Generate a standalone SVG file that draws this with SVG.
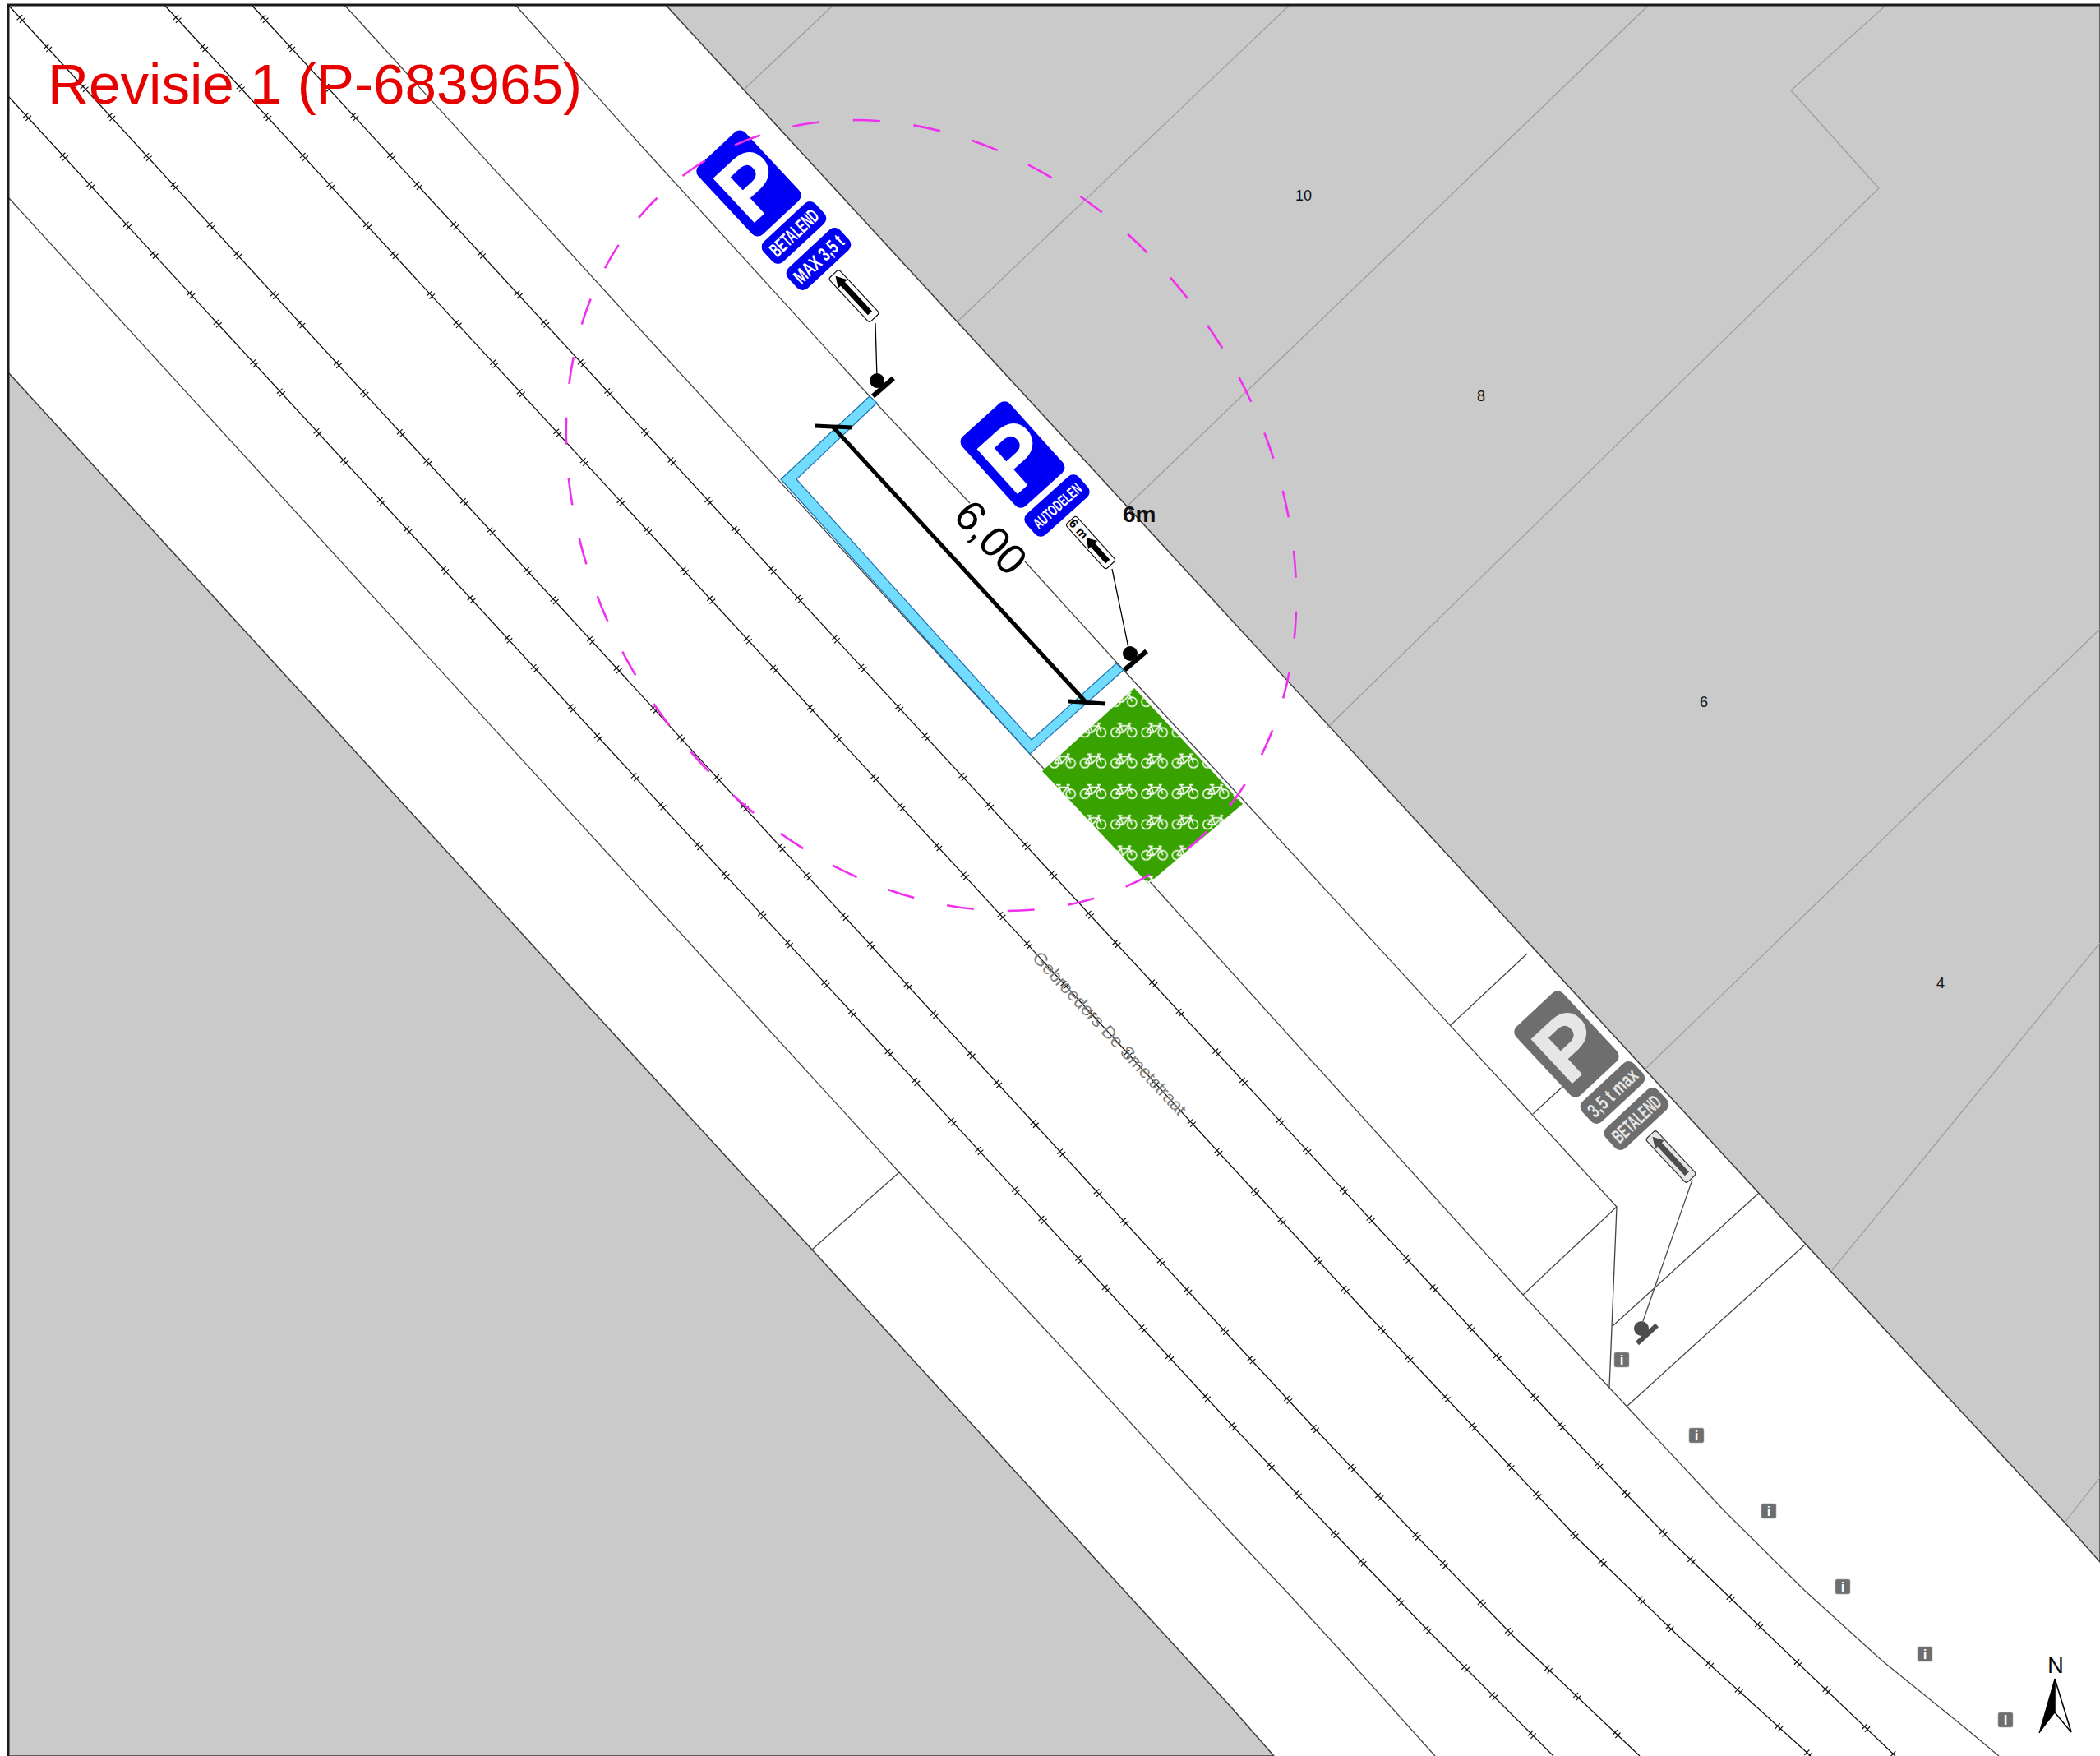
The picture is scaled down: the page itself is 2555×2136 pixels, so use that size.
<svg xmlns="http://www.w3.org/2000/svg" xmlns:xlink="http://www.w3.org/1999/xlink" width="2555" height="2136" viewBox="0 0 2555 2136">
<style>
text{font-family:"Liberation Sans",Arial,sans-serif}
.gray{fill:#cacaca;stroke:#3c3c3c;stroke-width:1.5}
.road{fill:none;stroke:#444;stroke-width:1.3}
.tr{fill:none;stroke:#111;stroke-width:1.3}
.tk{fill:none;stroke:#111;stroke-width:9;stroke-dasharray:1.2 3.6 1.2 42 1.2 3.6 1.2 60}
.lot{fill:none;stroke:#9c9c9c;stroke-width:1.2}
.pb{fill:#0000f5}.pg{fill:#6e6e6e}
.tb{fill:#fff}.tg{fill:#e6e6e6}
.lbl{font-weight:bold;font-size:24px}
.P{font-weight:bold;font-size:105px}
.num{font-size:18px;text-anchor:middle;fill:#111}
.inf{fill:#6e6e6e;stroke:#aaa;stroke-width:.6}
.inft{fill:#fff;font-size:17px;font-weight:bold;text-anchor:middle}
</style>
<defs>
<pattern id="bikes" patternUnits="userSpaceOnUse" width="37.33" height="37.33" patternTransform="translate(1350.8 873.5)">
<g transform="translate(6.5 17.5)" fill="none" stroke="#fff" stroke-width="1.6">
<circle cx="0" cy="0" r="5.6"/><circle cx="20" cy="0" r="5.6"/>
<path d="M0 0H9L16.5-8H6L0 0M9 0L5-11M2.500-11H8M20 0L16-11H19"/>
</g>
</pattern>
<g id="ar3"><rect x="-8.500" y="-36.500" width="17" height="73" rx="3.500" fill="#fff" stroke="#111" stroke-width="1.2"/><path d="M0-33L7.500-20H3.500V28.500H-3.500V-20H-7.500Z" fill="#000"/></g>
</defs>
<rect width="2555" height="2136" fill="#fff"/>
<g id="ground">
<path class="gray" d="M810 6L2100 1408L2228 1547L2512 1852L2555 1900V6Z"/>
<path class="gray" d="M10 453L900 1425L988 1520L1107 1650L1500 2079L1550 2136H10Z"/>
<path class="lot" d="M1014 6L905 109M1569 6L1165 391M2006 6L1800 204L1370 617M2295 6L2179 110L2286 229L2009 500L1615 885M2555 765L2002 1300M2555 1147L2348 1400L2229 1545M2555 1797L2512 1852"/>
</g>
<g id="connectors">
<path class="road" d="M10 240L1094 1426L1302 1650L1500 1867L1567 1938L1641 2019L1746 2136"/>
<path class="road" d="M988 1520L1094 1426"/>
<path class="tr" d="M10 117L1500 1735L1628 1870L1742 1988L1890 2136"/><path class="tk" stroke-dashoffset="17" d="M10 117L1500 1735L1628 1870L1742 1988L1890 2136"/>
<path class="tr" d="M10 6L1500 1630L1598 1736L1724 1869L1841 1990L1995 2136"/><path class="tk" stroke-dashoffset="94" d="M10 6L1500 1630L1598 1736L1724 1869L1841 1990L1995 2136"/>
<path class="tr" d="M200 6L1665 1600L1793 1736L1919 1871L2043 1991L2203 2136"/><path class="tk" stroke-dashoffset="94" d="M200 6L1665 1600L1793 1736L1919 1871L2043 1991L2203 2136"/>
<path class="tr" d="M306 6L1775 1600L1901 1736L2032 1873L2153 1990L2306 2136"/><path class="tk" stroke-dashoffset="94" d="M306 6L1775 1600L1901 1736L2032 1873L2153 1990L2306 2136"/>
<path class="road" d="M419 6L780 402L1253 917L1395 1068L1853 1575L1958 1688L2099 1839L2196 1935L2291 2021L2390 2101L2432 2136"/>
<path class="road" d="M627 6L780 177L1058 482L1180 612M1247 683L1367 815L1540 1003L1967 1468L1853 1575M1967 1468L1958 1688M1962 1613L2139 1452M1979 1711L2196 1514M1765 1247L1858 1160M1865 1355L1925 1300"/>
</g>
<g id="bike-area">
<path id="bg" d="M1380 837L1268 938L1397 1075L1512 978Z" fill="#38a300"/>
<path d="M1380 837L1268 938L1397 1075L1512 978Z" fill="url(#bikes)"/>
</g>
<g id="parking-bay">
<path d="M1058 482L950 583L1253 917L1367 815L1358 807L1255 900L969 583L1067 490Z" fill="#72dcff" stroke="#1b6fae" stroke-width="1.2"/>
</g>
<g id="dimension">
<path d="M1014 520L1322 855M992 518L1037 520M1300 853L1345 856" fill="none" stroke="#000" stroke-width="5"/>
<text transform="translate(1158 629) rotate(47)" font-size="52" fill="#000">6,00</text>
</g>
<text id="label-6m" x="1366" y="635" font-size="28" font-weight="bold" fill="#111">6m</text>
<g id="sign-betalend-blue">
<g transform="translate(911 223) rotate(-43)"><rect class="pb" x="-39" y="-57" width="78" height="114" rx="9"/><text class="P tb" stroke="#fff" stroke-width="1.500" x="-34" y="39">P</text></g>
<g transform="translate(966 283) rotate(-43)"><rect class="pb" x="-43" y="-17" width="86" height="34" rx="9"/><text class="lbl tb" x="-36" y="8.500" textLength="72" lengthAdjust="spacingAndGlyphs">BETALEND</text></g>
<g transform="translate(996 315) rotate(-43)"><rect class="pb" x="-43" y="-17" width="86" height="34" rx="9"/><text class="lbl tb" x="-37" y="8.500" textLength="74" lengthAdjust="spacingAndGlyphs">MAX 3,5 t</text></g>
<use xlink:href="#ar3" href="#ar3" transform="translate(1039 360) rotate(-43)"/>
<path d="M1065 393L1067 460" fill="none" stroke="#000" stroke-width="1.300"/>
<path d="M1062 482L1087 460" stroke="#000" stroke-width="6"/><circle cx="1067" cy="463" r="9"/>
</g>
<g id="sign-autodelen">
<g transform="translate(1232 553) rotate(-42)"><rect class="pb" x="-39" y="-57" width="78" height="114" rx="9"/><text class="P tb" stroke="#fff" stroke-width="1.500" x="-34" y="39">P</text></g>
<g transform="translate(1286 615) rotate(-42)"><rect class="pb" x="-43" y="-17" width="86" height="34" rx="9"/><text class="tb" font-weight="bold" font-size="19" x="-36" y="7" textLength="72" lengthAdjust="spacingAndGlyphs">AUTODELEN</text></g>
<g transform="translate(1327 660) rotate(-42)"><rect x="-8.500" y="-36.500" width="17" height="73" rx="3.500" fill="#fff" stroke="#111" stroke-width="1.200"/><path d="M0-8L7.500 4H3.500V31H-3.500V4H-7.500Z" fill="#000"/><text transform="rotate(90)" x="-35" y="5" font-size="15" font-weight="bold" fill="#000">6 m</text></g>
<path d="M1353 692L1373 788" fill="none" stroke="#000" stroke-width="1.300"/>
<path d="M1368 815L1395 792" stroke="#000" stroke-width="6"/><circle cx="1375" cy="795" r="9"/>
</g>
<g id="sign-grey">
<g transform="translate(1906 1270) rotate(-43)"><rect class="pg" x="-39" y="-57" width="78" height="114" rx="9"/><text class="P tg" stroke="#e6e6e6" stroke-width="1.500" x="-34" y="39">P</text></g>
<g transform="translate(1962 1329) rotate(-43)"><rect class="pg" x="-43" y="-17" width="86" height="34" rx="9"/><text class="lbl tg" x="-37" y="8.500" textLength="74" lengthAdjust="spacingAndGlyphs">3,5 t max</text></g>
<g transform="translate(1991 1361) rotate(-43)"><rect class="pg" x="-43" y="-17" width="86" height="34" rx="9"/><text class="lbl tg" x="-36" y="8.500" textLength="72" lengthAdjust="spacingAndGlyphs">BETALEND</text></g>
<g transform="translate(2033 1407) rotate(-43)"><rect x="-8.500" y="-36.500" width="17" height="73" rx="3.500" fill="#e6e6e6" stroke="#333" stroke-width="1.200"/><path d="M0-33L7.500-20H3.500V28.500H-3.500V-20H-7.500Z" fill="#4d4d4d"/></g>
<path d="M2059 1435L1999 1607" fill="none" stroke="#4d4d4d" stroke-width="1.300"/>
<path d="M1992 1634L2016 1612" stroke="#4d4d4d" stroke-width="6"/><circle cx="1997" cy="1616" r="9" fill="#4d4d4d"/>
</g>
<g id="info-markers">
<g id="info-1"><rect class="inf" x="1964" y="1645" width="18" height="18" rx="2"/><text class="inft" x="1973" y="1660">i</text></g>
<g id="info-2"><rect class="inf" x="2055" y="1737" width="18" height="18" rx="2"/><text class="inft" x="2064" y="1752">i</text></g>
<g id="info-3"><rect class="inf" x="2143" y="1829" width="18" height="18" rx="2"/><text class="inft" x="2152" y="1844">i</text></g>
<g id="info-4"><rect class="inf" x="2233" y="1921" width="18" height="18" rx="2"/><text class="inft" x="2242" y="1936">i</text></g>
<g id="info-5"><rect class="inf" x="2333" y="2003" width="18" height="18" rx="2"/><text class="inft" x="2342" y="2018">i</text></g>
<g id="info-6"><rect class="inf" x="2431" y="2083" width="18" height="18" rx="2"/><text class="inft" x="2440" y="2098">i</text></g>
</g>
<g id="street-name"><text transform="translate(1255 1166) rotate(47)" font-size="22" fill="#808080">Gebroeders De Smetstraat</text></g>
<g id="house-numbers">
<text class="num" x="1586" y="244">10</text><text class="num" x="1802" y="488">8</text><text class="num" x="2073" y="860">6</text><text class="num" x="2361" y="1202">4</text>
</g>
<g id="circle"><ellipse cx="1133" cy="627" rx="512" ry="408" transform="rotate(55.4 1133 627)" fill="none" stroke="#f030f0" stroke-width="2.600" stroke-dasharray="33 41" stroke-dashoffset="45"/></g>
<g id="north">
<text x="2501" y="2035" font-size="27" text-anchor="middle" fill="#000">N</text>
<path d="M2500 2042L2481 2108L2500 2083Z" fill="#000" stroke="#000" stroke-width="1"/>
<path d="M2500 2042L2520 2107L2500 2083Z" fill="#fff" stroke="#000" stroke-width="1.600"/>
</g>
<path id="frame" d="M10 2136V6H2555" fill="none" stroke="#1a1a1a" stroke-width="3"/>
<text id="title" x="58" y="126" font-size="69.200" fill="#e60000">Revisie 1 (P-683965)</text>
</svg>
